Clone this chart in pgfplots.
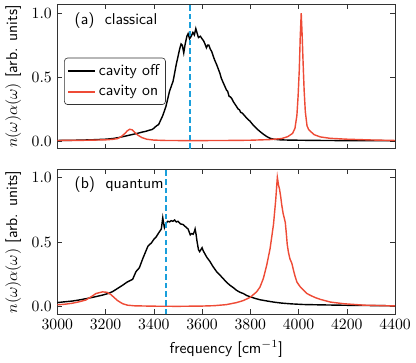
\documentclass[border=0pt]{standalone}
\usepackage{pgfplots}
\pgfplotsset{compat=1.18}
\usepgfplotslibrary{groupplots}
\definecolor{cavon}{HTML}{EE4B36}
\definecolor{vline}{HTML}{1A9FDB}
\definecolor{frame}{HTML}{333333}

\begin{document}
\begin{tikzpicture}
\begin{groupplot}[
  group style={group size=1 by 2, vertical sep=13.3pt, x descriptions at=edge bottom},
  scale only axis, width=215pt, height=92pt,
  xmin=3000, xmax=4400, ymin=-0.06, ymax=1.07,
  xtick={3000,3200,...,4400}, ytick={0,0.5,1},
  yticklabel style={/pgf/number format/.cd,fixed,fixed zerofill,precision=1},
  xticklabel style={/pgf/number format/1000 sep={}},
  major tick length=3pt, tick align=inside,
  axis line style={frame}, tick style={frame},
  label style={font=\sffamily},
  ylabel={$n(\omega)\alpha(\omega)$ [arb. units]},
  every axis plot/.append style={line width=0.9pt},
]
\nextgroupplot[
  legend style={at={(0.02,0.63)}, anchor=north west, draw=frame, rounded corners=2pt,
    font=\sffamily, row sep=1pt, inner sep=2pt},
  legend cell align=left,
  legend image code/.code={\draw[#1] (0cm,0cm) -- (0.6cm,0cm);},
]
\addplot[black] coordinates {
(3000,0.005)(3050,0.006)(3100,0.008)(3150,0.011)(3200,0.015)(3230,0.02)(3260,0.03)(3300,0.047)
(3330,0.06)(3355,0.072)(3370,0.078)(3380,0.085)(3392,0.09)(3400,0.10)(3410,0.118)(3420,0.13)
(3437,0.2)(3450,0.27)(3465,0.39)(3480,0.47)(3493,0.6)(3500,0.66)(3507,0.72)(3513,0.76)(3518,0.75)
(3524,0.69)(3530,0.76)(3537,0.82)(3542,0.84)(3548,0.80)(3555,0.82)(3562,0.85)(3568,0.83)(3574,0.88)
(3580,0.84)(3585,0.81)(3593,0.82)(3600,0.80)(3606,0.785)(3612,0.76)(3618,0.73)(3623,0.75)(3628,0.75)
(3634,0.72)(3640,0.70)(3647,0.66)(3653,0.63)(3660,0.60)(3667,0.565)(3674,0.53)(3680,0.49)(3687,0.46)
(3694,0.43)(3701,0.40)(3706,0.39)(3712,0.35)(3718,0.345)(3724,0.33)(3729,0.31)(3736,0.29)(3743,0.27)
(3750,0.25)(3755,0.245)(3760,0.225)(3766,0.22)(3771,0.21)(3785,0.18)(3799,0.155)(3812,0.125)
(3826,0.098)(3840,0.075)(3854,0.054)(3868,0.036)(3882,0.022)(3900,0.014)(3924,0.01)(3960,0.008)
(4000,0.007)(4100,0.005)(4200,0.004)(4400,0.003)};
\addplot[cavon] coordinates {
(3000,0.005)(3100,0.006)(3200,0.01)(3230,0.014)(3250,0.02)(3265,0.035)(3280,0.06)(3290,0.08)
(3300,0.093)(3310,0.088)(3320,0.07)(3335,0.045)(3350,0.028)(3370,0.015)(3400,0.008)(3450,0.005)
(3550,0.004)(3700,0.005)(3800,0.007)(3880,0.012)(3930,0.02)(3955,0.035)(3975,0.06)(3985,0.1)
(3993,0.2)(3998,0.35)(4003,0.56)(4007,0.82)(4011,1.0)(4015,0.82)(4019,0.6)(4023,0.4)(4028,0.23)
(4035,0.12)(4042,0.09)(4050,0.075)(4065,0.05)(4090,0.033)(4130,0.022)(4200,0.015)(4300,0.009)(4400,0.005)};
\addplot[vline, line width=1.2pt, dash pattern=on 3.5pt off 2pt, forget plot] coordinates {(3550,-0.06)(3550,1.07)};
\node[anchor=west, font=\sffamily] at (rel axis cs:0.035,0.888) {(a)~~classical};
\legend{cavity off, cavity on}

\nextgroupplot[xlabel={frequency [cm$^{-1}$]}, ymax=1.06]
\addplot[black] coordinates {
(3000,0.03)(3030,0.036)(3062,0.042)(3090,0.05)(3118,0.06)(3150,0.072)(3187,0.088)(3210,0.1)
(3229,0.115)(3250,0.14)(3271,0.165)(3290,0.19)(3312,0.21)(3326,0.27)(3340,0.3)(3354,0.37)
(3365,0.42)(3375,0.465)(3382,0.48)(3389,0.49)(3400,0.52)(3410,0.54)(3420,0.57)(3431,0.6)
(3437,0.687)(3441,0.64)(3444,0.61)(3451,0.645)(3458,0.66)(3465,0.655)(3472,0.665)(3479,0.66)
(3486,0.67)(3493,0.655)(3500,0.66)(3510,0.64)(3521,0.635)(3530,0.62)(3542,0.6)(3548,0.57)
(3551,0.555)(3557,0.565)(3563,0.56)(3568,0.58)(3571,0.6)(3575,0.56)(3579,0.505)(3585,0.44)
(3590,0.425)(3595,0.44)(3600,0.455)(3605,0.43)(3611,0.41)(3620,0.38)(3632,0.35)(3645,0.31)
(3660,0.27)(3673,0.245)(3687,0.217)(3700,0.19)(3715,0.165)(3730,0.145)(3743,0.125)(3757,0.11)
(3771,0.1)(3785,0.085)(3799,0.075)(3820,0.062)(3840,0.052)(3870,0.042)(3896,0.034)(3930,0.026)
(3970,0.02)(4021,0.015)(4100,0.012)(4200,0.009)(4300,0.007)(4400,0.005)};
\addplot[cavon] coordinates {
(3000,0.013)(3030,0.017)(3062,0.025)(3090,0.036)(3118,0.05)(3140,0.075)(3160,0.1)(3187,0.113)
(3205,0.11)(3220,0.095)(3235,0.07)(3250,0.045)(3270,0.022)(3290,0.01)(3320,0.005)(3400,0.002)
(3500,0.001)(3600,0.003)(3650,0.006)(3700,0.014)(3743,0.03)(3770,0.045)(3799,0.07)(3826,0.113)
(3840,0.15)(3854,0.217)(3868,0.32)(3882,0.45)(3896,0.635)(3905,0.82)(3912,1.0)(3917,0.94)
(3921,0.91)(3926,0.85)(3930,0.79)(3936,0.72)(3940,0.69)(3945,0.65)(3949,0.57)(3953,0.48)
(3958,0.42)(3964,0.37)(3972,0.335)(3979,0.28)(3986,0.23)(3993,0.19)(4000,0.17)(4007,0.152)
(4021,0.125)(4035,0.1)(4049,0.086)(4070,0.068)(4090,0.055)(4132,0.034)(4188,0.021)(4271,0.01)(4400,0.004)};
\addplot[vline, line width=1.2pt, dash pattern=on 3.5pt off 2pt] coordinates {(3450,-0.06)(3450,1.06)};
\node[anchor=west, font=\sffamily] at (rel axis cs:0.035,0.90) {(b)~~quantum};
\end{groupplot}
\end{tikzpicture}
\end{document}
